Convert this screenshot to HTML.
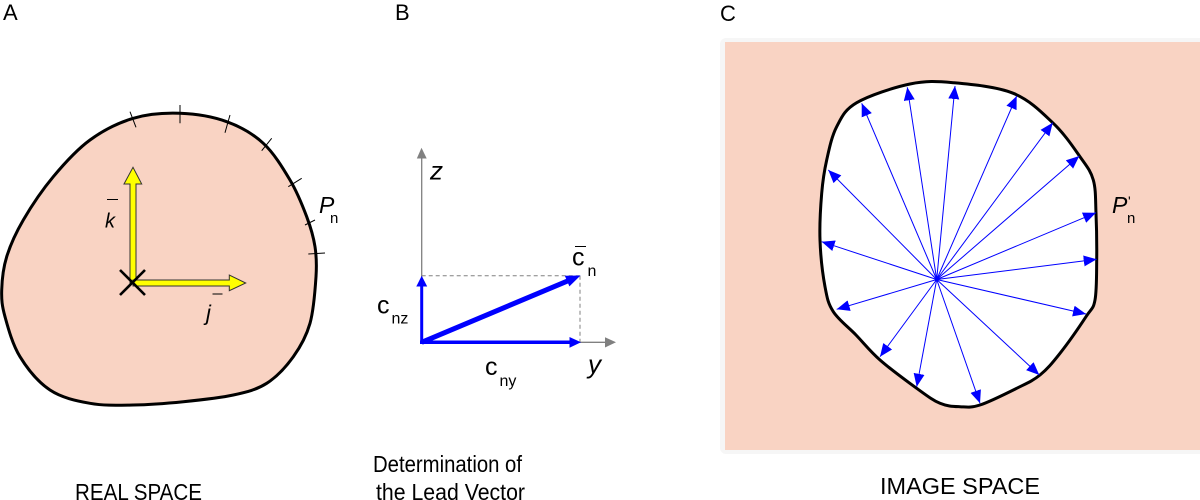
<!DOCTYPE html>
<html>
<head>
<meta charset="utf-8">
<style>
html,body{margin:0;padding:0;background:#fff;}
svg{display:block;}
text{font-family:"Liberation Sans",Arial,sans-serif;fill:#000;}
</style>
</head>
<body>
<svg id="s" width="1200" height="500" viewBox="0 0 1200 500" xmlns="http://www.w3.org/2000/svg">
<defs>
<marker id="bh" markerUnits="userSpaceOnUse" markerWidth="15" markerHeight="12" refX="13" refY="5.5" orient="auto">
<path d="M0,0 L13,5.5 L0,11 z" fill="#0000ff"/>
</marker>
</defs>

<!-- Panel labels -->
<text x="3" y="20" font-size="22">A</text>
<text x="395" y="20" font-size="22">B</text>
<text x="720" y="21" font-size="22">C</text>

<!-- ============ Panel A ============ -->
<path id="shapeA" fill="#f9d3c3" stroke="#000" stroke-width="3" d="M180,113.3 L226.7,121.7 L263.3,143.3 L290,180 L306.7,216.7 L315,246.7 L316,276.7 L310,323.3 L293.3,356.7 L266.7,383.3 L233.3,395 L183.3,401.7 L133.3,405 L90,403.3 L50,390 L20,356.7 L5,316.7 L1.7,290 L6.7,256.7 L23.3,220 L53.3,176.7 L90,140 L133.3,118.3 Z"/>
<g stroke="#000" stroke-width="1">
<line x1="130" y1="111.7" x2="136" y2="127.3"/>
<line x1="180" y1="105" x2="180" y2="123.3"/>
<line x1="230" y1="115" x2="225" y2="132.7"/>
<line x1="271.7" y1="138.3" x2="261.7" y2="150.7"/>
<line x1="301.7" y1="178.3" x2="288.3" y2="186.7"/>
<line x1="315" y1="220" x2="305" y2="225"/>
<line x1="325" y1="253" x2="308.3" y2="254"/>
</g>
<text x="319" y="213" font-size="23" font-style="italic">P</text>
<text x="330" y="223" font-size="15">n</text>

<!-- yellow arrows -->
<polygon points="130,283 130,184 124,184 133,167.3 141.7,184 136,184 136,283" fill="#ffff00" stroke="#333" stroke-width="1"/>
<polygon points="133,280 229.3,280 229.3,275 245.7,283 229.3,290.7 229.3,286 133,286" fill="#ffff00" stroke="#333" stroke-width="1"/>
<g stroke="#000" stroke-width="2.6">
<line x1="120" y1="270" x2="145" y2="295"/>
<line x1="120" y1="295" x2="145" y2="270"/>
</g>
<line x1="107" y1="199.5" x2="118" y2="199.5" stroke="#000" stroke-width="1"/>
<text x="105" y="227.3" font-size="20" font-style="italic">k</text>
<line x1="212.5" y1="294" x2="222.5" y2="294" stroke="#000" stroke-width="1"/>
<text x="206" y="320.5" font-size="22" font-style="italic">j</text>

<text x="75" y="500" font-size="23" textLength="127" lengthAdjust="spacingAndGlyphs">REAL SPACE</text>

<!-- ============ Panel B ============ -->
<g stroke="#808080" stroke-width="1" stroke-dasharray="4,3" fill="none">
<line x1="421.7" y1="275.7" x2="580" y2="275.7"/>
<line x1="580" y1="275.7" x2="580" y2="342.3"/>
</g>
<line x1="421.7" y1="342.3" x2="421.7" y2="157" stroke="#808080" stroke-width="1.3"/>
<polygon points="416.8,158.5 421.5,147.8 426.7,158.5" fill="#808080"/>
<line x1="421.7" y1="342.3" x2="606" y2="342.3" stroke="#808080" stroke-width="1.3"/>
<polygon points="605,337.3 616,342.3 605,347.5" fill="#808080"/>

<line x1="421.7" y1="344" x2="421.7" y2="285" stroke="#0000ff" stroke-width="3"/>
<polygon points="416.3,286.5 421.7,275.7 427.2,286.5" fill="#0000ff"/>
<line x1="420" y1="342.3" x2="571" y2="342.3" stroke="#0000ff" stroke-width="3.5"/>
<polygon points="569.5,337 581,342.3 569.5,347.8" fill="#0000ff"/>
<line x1="421.7" y1="342.3" x2="568" y2="280.8" stroke="#0000ff" stroke-width="5"/>
<polygon points="569.4,286.4 580.5,275.5 564.8,275.7" fill="#0000ff"/>

<text x="430" y="179.5" font-size="26" font-style="italic">z</text>
<text x="588" y="373" font-size="26" font-style="italic">y</text>
<text x="377" y="313.5" font-size="25">c</text>
<text x="391.5" y="323.5" font-size="16">nz</text>
<text x="485" y="375" font-size="25">c</text>
<text x="499.5" y="386" font-size="16">ny</text>
<line x1="575" y1="246.5" x2="586" y2="246.5" stroke="#000" stroke-width="1"/>
<text x="572" y="265.5" font-size="25">c</text>
<text x="587.5" y="276" font-size="16">n</text>

<text x="373" y="472" font-size="23" textLength="149" lengthAdjust="spacingAndGlyphs">Determination of</text>
<text x="376" y="500" font-size="23" textLength="149" lengthAdjust="spacingAndGlyphs">the Lead Vector</text>

<!-- ============ Panel C ============ -->
<rect x="720" y="38" width="490" height="416" rx="6" fill="#f6f6f6"/>
<rect x="725" y="42" width="475" height="408" fill="#f9d3c3"/>
<path id="shapeC" fill="#fff" stroke="#000" stroke-width="3" d="M856.7,102.7 L910,84 L953.3,82.7 L1013.3,93.3 L1053.3,123.3 L1080,156.7 L1093.3,180 L1096,213.3 L1096.7,260 L1095,300 L1086,316.7 L1060,353.3 L1040,375 L1016.7,388.3 L980,405 L960,406.7 L940,403.3 L916.7,388.3 L880,360 L856,335 L833.3,311.7 L825,286.7 L820,240 L821.7,193.3 L826.7,160 L836.7,126.7 Z"/>
<g id="rays" stroke="#0000ff" stroke-width="1" marker-end="url(#bh)">
<line x1="936.7" y1="279.5" x2="828.3" y2="170"/>
<line x1="936.7" y1="279.5" x2="821.7" y2="241.7"/>
<line x1="936.7" y1="279.5" x2="836.7" y2="309.3"/>
<line x1="936.7" y1="279.5" x2="880" y2="356.7"/>
<line x1="936.7" y1="279.5" x2="916.7" y2="386.7"/>
<line x1="936.7" y1="279.5" x2="980" y2="403.3"/>
<line x1="936.7" y1="279.5" x2="1039.3" y2="375"/>
<line x1="936.7" y1="279.5" x2="1086" y2="314"/>
<line x1="936.7" y1="279.5" x2="1096.7" y2="259.3"/>
<line x1="936.7" y1="279.5" x2="1096" y2="212.7"/>
<line x1="936.7" y1="279.5" x2="1079.3" y2="156"/>
<line x1="936.7" y1="279.5" x2="1052.7" y2="122.7"/>
<line x1="936.7" y1="279.5" x2="1016.7" y2="96"/>
<line x1="936.7" y1="279.5" x2="955" y2="86"/>
<line x1="936.7" y1="279.5" x2="907.3" y2="87.3"/>
<line x1="936.7" y1="279.5" x2="861.7" y2="103.3"/>
</g>
<circle cx="936.7" cy="279.5" r="2" fill="#0000ff"/>

<text x="1112" y="213" font-size="23" font-style="italic">P</text>
<text x="1128" y="206" font-size="14">'</text>
<text x="1127" y="223" font-size="15">n</text>

<text x="880" y="494" font-size="23" textLength="160" lengthAdjust="spacingAndGlyphs">IMAGE SPACE</text>
</svg>
<script>
(function(){
  function smooth(id){
    var el=document.getElementById(id);
    var d=el.getAttribute('d');
    var nums=d.match(/-?\d+(\.\d+)?/g).map(Number);
    var p=[];for(var i=0;i<nums.length;i+=2)p.push([nums[i],nums[i+1]]);
    var n=p.length,s='M'+p[0][0]+','+p[0][1];
    for(var i=0;i<n;i++){
      var p0=p[(i-1+n)%n],p1=p[i],p2=p[(i+1)%n],p3=p[(i+2)%n];
      var c1=[p1[0]+(p2[0]-p0[0])/6,p1[1]+(p2[1]-p0[1])/6];
      var c2=[p2[0]-(p3[0]-p1[0])/6,p2[1]-(p3[1]-p1[1])/6];
      s+=' C'+c1[0].toFixed(2)+','+c1[1].toFixed(2)+' '+c2[0].toFixed(2)+','+c2[1].toFixed(2)+' '+p2[0]+','+p2[1];
    }
    el.setAttribute('d',s+' Z');
  }
  smooth('shapeA');smooth('shapeC');
})();
</script>
</body>
</html>
